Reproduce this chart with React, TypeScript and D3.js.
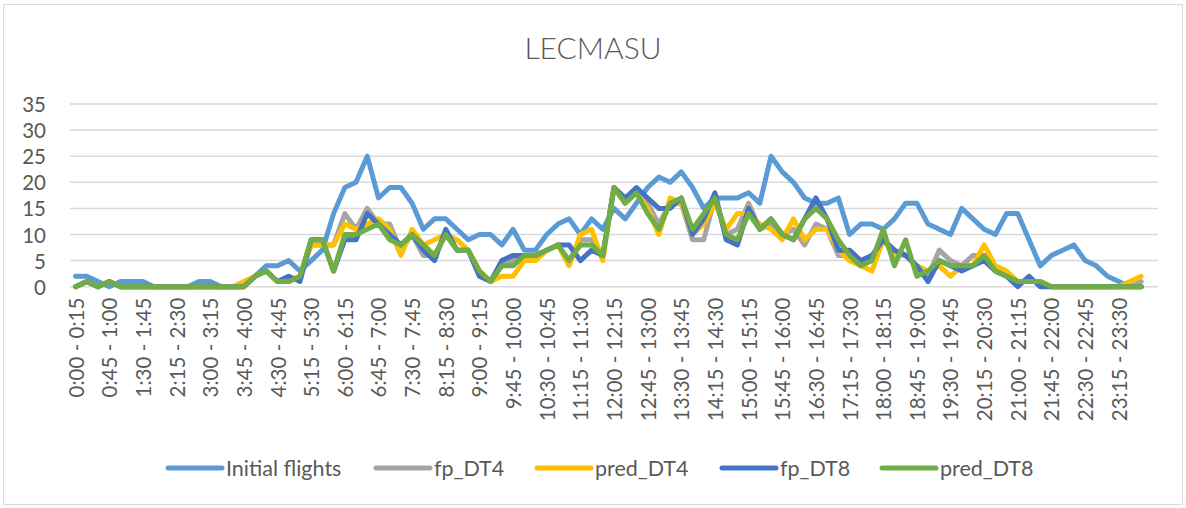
import React from "react";
import * as d3 from "d3";

const W = 1186;
const H = 508;

function fmt(m: number): string {
  const h = Math.floor(m / 60);
  const mm = m % 60;
  return `${h}:${mm < 10 ? "0" + mm : mm}`;
}
// 15-minute slots, plus one trailing empty category as in the source sheet
const slots: string[] = d3.range(96).map((i) => `${fmt(i * 15)} - ${fmt(i * 15 + 15)}`);
const categories: string[] = [...slots, ""];

const yTicks = [0, 5, 10, 15, 20, 25, 30, 35];

const initialFlights = [
  2, 2, 1, 0, 1, 1, 1, 0, 0, 0,
  0, 1, 1, 0, 0, 0, 2, 4, 4, 5,
  3, 5, 7, 14, 19, 20, 25, 17, 19, 19,
  16, 11, 13, 13, 11, 9, 10, 10, 8, 11,
  7, 7, 10, 12, 13, 10, 13, 11, 15, 13,
  16, 19, 21, 20, 22, 19, 15, 17, 17, 17,
  18, 16, 25, 22, 20, 17, 16, 16, 17, 10,
  12, 12, 11, 13, 16, 16, 12, 11, 10, 15,
  13, 11, 10, 14, 14, 9, 4, 6, 7, 8,
  5, 4, 2, 1, 0, 0,
];

const fpDT4 = [
  0, 1, 0, 1, 0, 0, 0, 0, 0, 0,
  0, 0, 0, 0, 0, 0, 2, 3, 1, 1,
  2, 8, 8, 8, 14, 11, 15, 12, 12, 7,
  10, 6, 6, 10, 7, 7, 3, 1, 4, 5,
  6, 6, 7, 8, 5, 9, 9, 6, 19, 16,
  18, 16, 12, 16, 16, 9, 9, 17, 10, 11,
  16, 11, 12, 10, 11, 8, 12, 11, 6, 6,
  4, 5, 9, 7, 6, 4, 2, 7, 5, 4,
  6, 6, 3, 2, 1, 1, 1, 0, 0, 0,
  0, 0, 0, 0, 0, 1,
];

const predDT4 = [
  0, 1, 0, 1, 0, 0, 0, 0, 0, 0,
  0, 0, 0, 0, 0, 1, 2, 3, 1, 1,
  2, 8, 8, 8, 12, 11, 12, 13, 11, 6,
  11, 8, 9, 10, 9, 7, 3, 1, 2, 2,
  5, 5, 7, 8, 4, 10, 11, 5, 19, 17,
  18, 15, 10, 17, 16, 10, 12, 16, 11, 14,
  14, 12, 11, 9, 13, 9, 11, 11, 7, 5,
  4, 3, 9, 6, 6, 4, 3, 4, 2, 4,
  4, 8, 4, 3, 1, 1, 1, 0, 0, 0,
  0, 0, 0, 0, 1, 2,
];

const fpDT8 = [
  0, 1, 0, 1, 0, 0, 0, 0, 0, 0,
  0, 0, 0, 0, 0, 0, 2, 3, 1, 2,
  1, 9, 9, 3, 9, 9, 14, 12, 10, 8,
  10, 7, 5, 11, 7, 7, 2, 1, 5, 6,
  6, 6, 7, 8, 8, 5, 7, 6, 19, 17,
  19, 17, 15, 15, 17, 10, 13, 18, 9, 8,
  15, 11, 13, 10, 9, 13, 17, 13, 7, 7,
  5, 6, 9, 7, 6, 4, 1, 5, 4, 3,
  4, 5, 3, 2, 0, 2, 0, 0, 0, 0,
  0, 0, 0, 0, 0, 0,
];

const predDT8 = [
  0, 1, 0, 1, 0, 0, 0, 0, 0, 0,
  0, 0, 0, 0, 0, 0, 2, 3, 1, 1,
  2, 9, 9, 3, 10, 10, 11, 12, 9, 8,
  10, 8, 6, 10, 7, 7, 3, 1, 4, 4,
  6, 6, 7, 8, 5, 8, 8, 6, 19, 16,
  18, 14, 11, 16, 17, 11, 14, 17, 10, 9,
  14, 11, 13, 10, 9, 13, 15, 13, 9, 6,
  4, 5, 11, 4, 9, 2, 3, 5, 4, 4,
  4, 6, 3, 2, 1, 1, 1, 0, 0, 0,
  0, 0, 0, 0, 0, 0,
];

const seriesNames = ["Initial flights", "fp_DT4", "pred_DT4", "fp_DT8", "pred_DT8"];
const seriesValues = [initialFlights, fpDT4, predDT4, fpDT8, predDT8];
const seriesColors = ["#5B9BD5", "#A5A5A5", "#FFC000", "#4472C4", "#70AD47"];

const FONT = "Lato, 'Open Sans', sans-serif";
const TEXT = "#595959";

export default function App() {
  const plot = { left: 70, right: 1158, top: 104, bottom: 286.7 };
  const x = d3
    .scaleBand<number>()
    .domain(d3.range(categories.length))
    .range([plot.left, plot.right]);
  const y = d3.scaleLinear().domain([0, 35]).range([plot.bottom, plot.top]);
  const cx = (i: number) => (x(i) as number) + x.bandwidth() / 2;

  const line = d3
    .line<number>()
    .x((_, i) => cx(i))
    .y((v) => y(v));

  const legendX = [168, 376, 537, 722, 882];
  const legendY = 468;

  return (
    <svg
      width={W}
      height={H}
      style={{ position: "absolute", left: 0, top: 0, background: "#fff" }}
      fontFamily={FONT}
    >
      <rect x={0} y={0} width={W} height={H} fill="#fff" />
      <rect x={3.5} y={4.5} width={1179} height={500} fill="none" stroke="#d9d9d9" strokeWidth={1} />
      <text x={593} y={59} textAnchor="middle" fontSize={30} fontWeight={300} fill={TEXT}>
        LECMASU
      </text>
      {yTicks.map((t) => (
        <g key={t}>
          <line x1={plot.left} x2={plot.right} y1={y(t)} y2={y(t)} stroke="#d9d9d9" strokeWidth={1.5} />
          <text x={46} y={y(t)} textAnchor="end" dominantBaseline="central" fontSize={20.5} fill={TEXT}>
            {t}
          </text>
        </g>
      ))}
      {categories.map((c, i) =>
        i % 3 === 0 && c ? (
          <text
            key={i}
            transform={`translate(${cx(i)},${plot.bottom + 11}) rotate(-90)`}
            textAnchor="end"
            dominantBaseline="central"
            fontSize={20.5}
            fill={TEXT}
          >
            {c}
          </text>
        ) : null
      )}
      {seriesValues.map((vals, k) => (
        <path
          key={k}
          d={line(vals) || ""}
          fill="none"
          stroke={seriesColors[k]}
          strokeWidth={5}
          strokeLinejoin="round"
          strokeLinecap="round"
        />
      ))}
      {seriesNames.map((n, k) => (
        <g key={n}>
          <line
            x1={legendX[k]}
            x2={legendX[k] + 54}
            y1={legendY}
            y2={legendY}
            stroke={seriesColors[k]}
            strokeWidth={5}
            strokeLinecap="round"
          />
          <text x={legendX[k] + 58} y={legendY} dominantBaseline="central" fontSize={21.5} fill={TEXT}>
            {n}
          </text>
        </g>
      ))}
    </svg>
  );
}
